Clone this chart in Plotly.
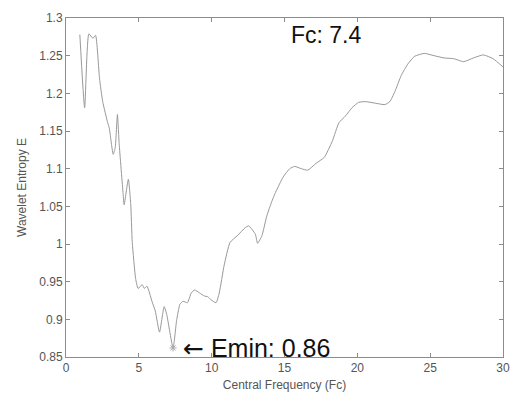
import plotly.graph_objects as go

fc = [0.95, 1.28, 1.57, 1.85, 2.03, 2.3, 2.52, 2.86, 2.97, 3.24, 3.38, 3.53, 3.65, 3.92, 3.99,
      4.28, 4.44, 4.55, 4.78, 4.95, 5.23, 5.38, 5.56, 5.9, 6.13, 6.42, 6.74, 6.92, 7.35, 7.59,
      7.82, 8.04, 8.33, 8.6, 8.83, 9.17, 9.5, 9.73, 9.95, 10.3, 10.52, 10.86, 11.26, 11.76,
      12.32, 12.55, 13.0, 13.15, 13.45, 13.78, 14.12, 14.35, 14.91, 15.36, 15.7, 16.15, 16.6,
      17.16, 17.73, 18.29, 18.74, 19.19, 19.64, 20.09, 20.54, 21.22, 21.89, 22.23, 22.57,
      23.02, 23.47, 23.92, 24.59, 25.27, 25.95, 26.62, 27.3, 27.97, 28.65, 29.32, 30.0]
entropy = [1.278, 1.181, 1.279, 1.273, 1.277, 1.22, 1.189, 1.161, 1.154, 1.119, 1.128, 1.172,
           1.133, 1.067, 1.052, 1.086, 1.054, 1.002, 0.954, 0.941, 0.946, 0.941, 0.944, 0.924,
           0.911, 0.883, 0.917, 0.906, 0.862, 0.898, 0.92, 0.924, 0.922, 0.935, 0.939, 0.935,
           0.931, 0.93, 0.926, 0.922, 0.935, 0.972, 1.002, 1.011, 1.022, 1.024, 1.013, 1.001,
           1.011, 1.037, 1.056, 1.067, 1.089, 1.1, 1.103, 1.1, 1.098, 1.107, 1.115, 1.137,
           1.161, 1.17, 1.181, 1.188, 1.189, 1.187, 1.185, 1.189, 1.202, 1.224, 1.239, 1.249,
           1.253, 1.25, 1.247, 1.246, 1.242, 1.247, 1.251, 1.246, 1.235]

fc_min = 7.4
e_min = 0.86

x_ticks = [0, 5, 10, 15, 20, 25, 30]
y_ticks = [0.85, 0.9, 0.95, 1.0, 1.05, 1.1, 1.15, 1.2, 1.25, 1.3]
y_tick_text = ["0.85", "0.9", "0.95", "1", "1.05", "1.1", "1.15", "1.2", "1.25", "1.3"]

font = "Liberation Sans, Arial, sans-serif"

fig = go.Figure()
fig.add_trace(go.Scatter(x=fc, y=entropy, mode="lines",
                         line=dict(color="#999999", width=1, shape="spline", smoothing=0.5),
                         showlegend=False))
fig.add_trace(go.Scatter(x=[7.35], y=[0.862], mode="markers",
                         marker=dict(symbol="asterisk", size=6, color="#aaaaaa",
                                     line=dict(color="#aaaaaa", width=1)),
                         showlegend=False))

fig.add_annotation(x=15.3, y=1.277, xref="x", yref="y", text=f"Fc: {fc_min}", showarrow=False,
                   xanchor="left", yanchor="middle",
                   font=dict(family=font, size=23, color="#111111"))
fig.add_annotation(x=7.9, y=0.861, xref="x", yref="y",
                   text=f"<span style='font-family:DejaVu Sans'>\u2190</span> Emin: {e_min}",
                   showarrow=False, xanchor="left", yanchor="middle",
                   font=dict(family=font, size=25, color="#111111"))

axis_common = dict(showgrid=False, zeroline=False, showline=True, linecolor="#8c8c8c",
                   linewidth=1, mirror="ticks", ticks="inside", ticklen=4,
                   tickcolor="#8c8c8c", tickfont=dict(family=font, size=12, color="#555555"))

fig.update_xaxes(range=[0, 30], tickvals=x_ticks,
                 title=dict(text="Central Frequency (Fc)", standoff=6,
                            font=dict(family=font, size=12, color="#555555")),
                 **axis_common)
fig.update_yaxes(range=[0.85, 1.3], tickvals=y_ticks, ticktext=y_tick_text,
                 title=dict(text="Wavelet Entropy E", standoff=10,
                            font=dict(family=font, size=12, color="#555555")),
                 **axis_common)

fig.update_layout(width=521, height=401, margin=dict(l=66, r=11, t=15, b=41),
                  paper_bgcolor="white", plot_bgcolor="white")

fig.write_html("out.html")
